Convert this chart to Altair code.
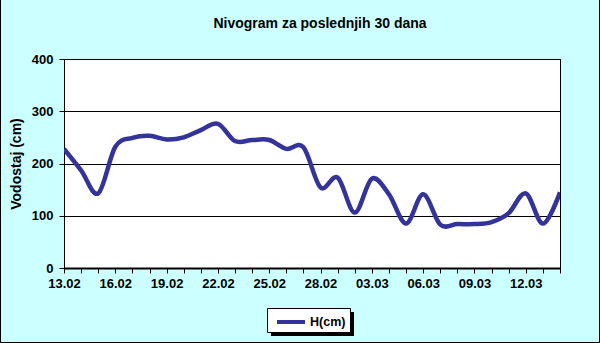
import altair as alt
import pandas as pd

dates = ["13.02", "14.02", "15.02", "16.02", "17.02", "18.02", "19.02", "20.02",
         "21.02", "22.02", "23.02", "24.02", "25.02", "26.02", "27.02", "28.02",
         "01.03", "02.03", "03.03", "04.03", "05.03", "06.03", "07.03", "08.03",
         "09.03", "10.03", "11.03", "12.03", "13.03", "14.03"]
levels = [228, 187, 143, 232, 249, 253, 246, 250, 264, 276, 243, 245, 245, 228, 231,
          154, 173, 106, 171, 141, 85, 141, 83, 84, 84, 88, 105, 143, 85, 145]
series_name = "H(cm)"
y_ticks = [0, 100, 200, 300, 400]

df = pd.DataFrame({"i": list(range(len(dates))), "date": dates, "H": levels,
                   "series": [series_name] * len(dates)})

FONT = "Liberation Sans"
label_arr = "[" + ",".join("'" + d + "'" for d in dates) + "]"

W, H = 496, 209
LEFT, TOP = 64, 59

line = alt.Chart(df).mark_line(
    interpolate="cardinal", strokeWidth=4.5, clip=True
).encode(
    x=alt.X("i:Q",
            scale=alt.Scale(domain=[0, len(dates) - 1], nice=False, zero=False),
            axis=alt.Axis(values=list(range(len(dates))),
                          labelExpr=f"datum.value % 3 == 0 ? {label_arr}[datum.value] : ''",
                          title=None, grid=False, domainColor="black", domainWidth=2,
                          tickColor="black", tickSize=5, labelFont=FONT, labelFontSize=13,
                          labelFontWeight="bold", labelColor="black", labelPadding=4,
                          labelFlush=False, labelOverlap=False)),
    y=alt.Y("H:Q",
            scale=alt.Scale(domain=[0, 400], nice=False),
            axis=alt.Axis(values=y_ticks, title="Vodostaj (cm)", grid=True,
                          gridColor="black", gridWidth=1, gridOpacity=1,
                          domain=False, tickColor="black", tickSize=5,
                          labelFont=FONT, labelFontSize=13, labelFontWeight="bold",
                          labelColor="black", labelPadding=6,
                          titleFont=FONT, titleFontSize=14, titleFontWeight="bold",
                          titleColor="black", titleAngle=-90, titleX=-48, titleY=H / 2,
                          titleAlign="center", titleBaseline="middle")),
    color=alt.Color("series:N",
                    scale=alt.Scale(range=["#333399"]),
                    legend=alt.Legend(title=None, orient="none", legendX=211, legendY=247,
                                      symbolType="stroke", symbolSize=784,
                                      symbolStrokeWidth=4, symbolOffset=0, padding=0,
                                      labelFont=FONT, labelFontSize=12.5,
                                      labelFontWeight="bold", labelColor="black",
                                      labelOffset=3)),
)

one = pd.DataFrame({"k": [0]})

left_edge = alt.Chart(one).mark_rule(color="black", strokeWidth=1, clip=False).encode(
    x=alt.value(-LEFT + 0.5), y=alt.value(-TOP), y2=alt.value(343 - TOP))
right_edge = alt.Chart(one).mark_rule(color="black", strokeWidth=1, clip=False).encode(
    x=alt.value(600 - LEFT - 0.5), y=alt.value(-TOP), y2=alt.value(343 - TOP))
bottom_edge = alt.Chart(one).mark_rule(color="black", strokeWidth=1, clip=False).encode(
    x=alt.value(-LEFT), x2=alt.value(600 - LEFT), y=alt.value(343 - TOP - 0.5))

shadow = alt.Chart(one).mark_rect(fill="black", clip=False).encode(
    x=alt.value(207), x2=alt.value(290), y=alt.value(253), y2=alt.value(277))

box = alt.Chart(one).mark_rect(fill="white", stroke="black", strokeWidth=1, clip=False).encode(
    x=alt.value(203.5), x2=alt.value(286.5), y=alt.value(249.5), y2=alt.value(273.5))

chart = alt.layer(shadow, box, line, left_edge, right_edge, bottom_edge).properties(
    width=W, height=H,
    padding={"left": LEFT, "top": TOP, "right": 600 - LEFT - W, "bottom": 343 - TOP - H},
    autosize=alt.AutoSizeParams(type="none"),
    background="#CCFFFF",
    title=alt.TitleParams("Nivogram za poslednjih 30 dana", font=FONT, fontSize=14,
                          fontWeight="bold", color="black", anchor="middle", dx=8,
                          baseline="alphabetic", offset=-42),
).configure_view(stroke="black", strokeWidth=1, fill="white")

chart.save("out.html", embed_options={"renderer": "svg", "actions": False})
